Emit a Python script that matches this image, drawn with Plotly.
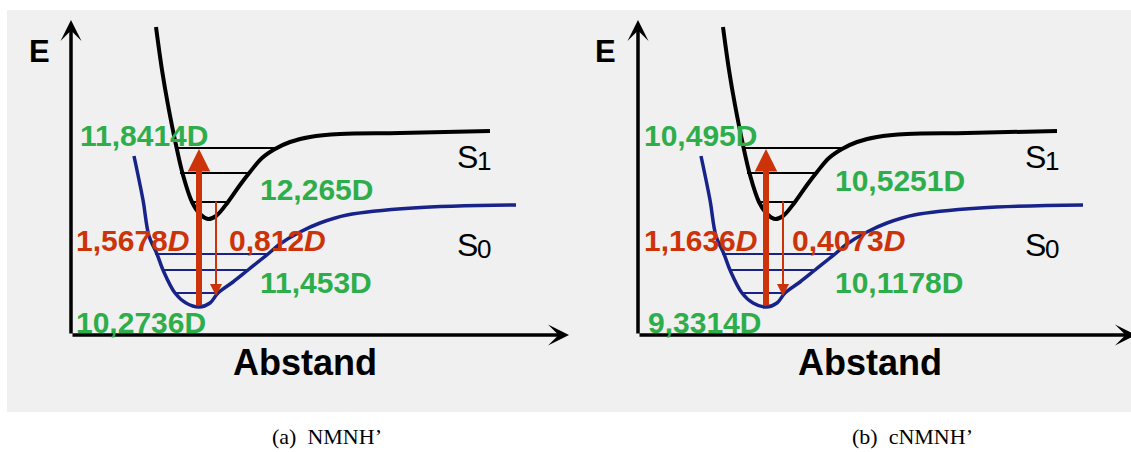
import plotly.graph_objects as go

# Dipole moments (Debye) at the four stations of the absorption/emission cycle
panel_tags = ["(a)", "(b)"]
molecules = ["NMNH’", "cNMNH’"]
mu_s0_min = [10.2736, 9.3314]   # S0 equilibrium geometry
mu_s1_fc = [11.8414, 10.495]    # S1 right after vertical excitation
mu_s1_min = [12.265, 10.5251]   # relaxed S1
mu_s0_fc = [11.453, 10.1178]    # S0 right after vertical emission

# Schematic potential energy curves: distance (Abstand) vs energy, arbitrary units
s1_r = [85, 91, 97, 105, 112, 121, 129, 137, 145, 157, 169, 179, 191, 204, 219, 239, 269, 329, 419]
s1_e = [308, 265, 230, 190, 160, 133, 121, 116, 119, 133, 150, 163, 177, 186, 193, 198, 201, 202, 204]
s0_r = [63, 72, 78, 86, 92, 104, 115, 128, 139, 147, 162, 177, 197, 209, 229, 249, 276, 342, 445]
s0_e = [179, 135, 99, 81, 65, 42, 32, 28, 32, 42, 53, 65, 81, 91, 103, 112, 120, 127, 130]

# Vibrational levels (energy, left and right turning points)
s1_lvl_e = [187, 162, 133]
s1_lvl_r0 = [104, 109, 119]
s1_lvl_r1 = [206, 179, 157]
s0_lvl_e = [81, 65, 42]
s0_lvl_r0 = [84, 91, 104]
s0_lvl_r1 = [197, 177, 147]

# Vertical transitions (distance, start energy, end energy)
absorb_r, absorb_e0, absorb_e1 = 128, 28, 186
emit_r, emit_e0, emit_e1 = 145, 135, 39

# Extent of the drawn coordinate axes
r_axis_end = 498
e_axis_end = 315

W, H = 1131, 452
GREEN = "#2EAD4B"
RED = "#CC3308"
NAVY = "#18238A"
SANS = "Liberation Sans, Arial, sans-serif"


def fmt(v):
    return f"{v:g}".replace(".", ",")


# label placement per panel (distance, energy)
label_pos = [
    dict(s1_fc=(7, 200), s1_min=(187, 146), d_abs=(3, 95), d_emi=(156, 95),
         s0_fc=(187, 53), s0_min=(3, 13), E=(-44, 284), S=384, abst=234),
    dict(s1_fc=(4, 200), s1_min=(195, 155), d_abs=(4, 95), d_emi=(152, 95),
         s0_fc=(195, 53), s0_min=(8, 13), E=(-45, 284), S=385, abst=232),
]

fig = go.Figure()
annotations = []

for k in range(2):
    xa = "x" if k == 0 else "x2"
    ya = "y" if k == 0 else "y2"

    # vibrational levels
    for e, r0, r1 in zip(s1_lvl_e, s1_lvl_r0, s1_lvl_r1):
        fig.add_trace(go.Scatter(x=[r0, r1], y=[e, e], mode="lines",
                                 line=dict(color="black", width=2),
                                 xaxis=xa, yaxis=ya, hoverinfo="skip"))
    for e, r0, r1 in zip(s0_lvl_e, s0_lvl_r0, s0_lvl_r1):
        fig.add_trace(go.Scatter(x=[r0, r1], y=[e, e], mode="lines",
                                 line=dict(color=NAVY, width=2.2),
                                 xaxis=xa, yaxis=ya, hoverinfo="skip"))

    # potential curves
    fig.add_trace(go.Scatter(x=s1_r, y=s1_e, mode="lines",
                             line=dict(color="black", width=4, shape="spline", smoothing=1.0),
                             xaxis=xa, yaxis=ya, hoverinfo="skip"))
    fig.add_trace(go.Scatter(x=s0_r, y=s0_e, mode="lines",
                             line=dict(color=NAVY, width=3.5, shape="spline", smoothing=1.0),
                             xaxis=xa, yaxis=ya, hoverinfo="skip"))

    # coordinate axes with arrowheads
    arrow_common = dict(xref=xa, yref=ya, axref=xa, ayref=ya, text="", showarrow=True,
                        standoff=0, startstandoff=0)
    annotations.append(dict(arrow_common, x=r_axis_end, y=0, ax=0, ay=0,
                            arrowhead=3, arrowwidth=3.5, arrowsize=1.0, arrowcolor="black"))
    annotations.append(dict(arrow_common, x=0, y=e_axis_end, ax=0, ay=0,
                            arrowhead=3, arrowwidth=3.5, arrowsize=1.0, arrowcolor="black"))

    # absorption (thick) and emission (thin) arrows
    annotations.append(dict(arrow_common, x=absorb_r, y=absorb_e1, ax=absorb_r, ay=absorb_e0,
                            arrowhead=2, arrowwidth=6, arrowsize=0.75, arrowcolor=RED))
    annotations.append(dict(arrow_common, x=emit_r, y=emit_e1, ax=emit_r, ay=emit_e0,
                            arrowhead=2, arrowwidth=2, arrowsize=1.2, arrowcolor=RED))

    lp = label_pos[k]
    d_abs = mu_s1_fc[k] - mu_s0_min[k]
    d_emi = mu_s1_min[k] - mu_s0_fc[k]

    def lab(pos, text, color, size=30, anchor="left"):
        annotations.append(dict(xref=xa, yref=ya, x=pos[0], y=pos[1], text=text,
                                showarrow=False, xanchor=anchor, yanchor="middle",
                                font=dict(family=SANS, size=size, color=color)))

    lab(lp["s1_fc"], f"<b>{fmt(mu_s1_fc[k])}D</b>", GREEN)
    lab(lp["s1_min"], f"<b>{fmt(mu_s1_min[k])}D</b>", GREEN)
    lab(lp["s0_fc"], f"<b>{fmt(mu_s0_fc[k])}D</b>", GREEN)
    lab(lp["s0_min"], f"<b>{fmt(mu_s0_min[k])}D</b>", GREEN)
    lab(lp["d_abs"], f"<b>{fmt(d_abs)}<i>D</i></b>", RED)
    lab(lp["d_emi"], f"<b>{fmt(d_emi)}<i>D</i></b>", RED)
    lab(lp["E"], "<b>E</b>", "black", 31)

    # state labels: S with an enlarged, slightly lowered index
    for idx, e in (("1", 178), ("0", 90)):
        lab((lp["S"], e), "S", "black", 32)
        lab((lp["S"] + 20, e - 4), idx, "black", 26)

    lab((lp["abst"], -27), "<b>Abstand</b>", "black", 36, anchor="center")

# sub-figure captions
for k, x_left in enumerate([270, 850]):
    annotations.append(dict(xref="paper", yref="paper", x=x_left / W, y=1 - 436 / H,
                            text=f"{panel_tags[k]}\u00a0\u00a0{molecules[k]}",
                            showarrow=False, xanchor="left", yanchor="middle",
                            font=dict(family="Liberation Serif, serif", size=22, color="black")))

axis_off = dict(visible=False, showgrid=False, zeroline=False, fixedrange=True)
fig.update_layout(
    width=W, height=H,
    margin=dict(l=0, r=0, t=0, b=0),
    paper_bgcolor="white",
    plot_bgcolor="rgba(0,0,0,0)",
    showlegend=False,
    xaxis=dict(axis_off, domain=[0, 567 / W], range=[-71, 496]),
    xaxis2=dict(axis_off, domain=[567 / W, 1], range=[-71, 493]),
    yaxis=dict(axis_off, domain=[0, 1], range=[-117, 335], anchor="x"),
    yaxis2=dict(axis_off, domain=[0, 1], range=[-117, 335], anchor="x2"),
    shapes=[dict(type="rect", xref="paper", yref="paper", x0=7 / W, x1=1,
                 y0=1 - 412 / H, y1=1 - 10 / H, fillcolor="#F0F0F0",
                 line=dict(width=0), layer="below")],
    annotations=annotations,
)

fig.write_html("out.html")
